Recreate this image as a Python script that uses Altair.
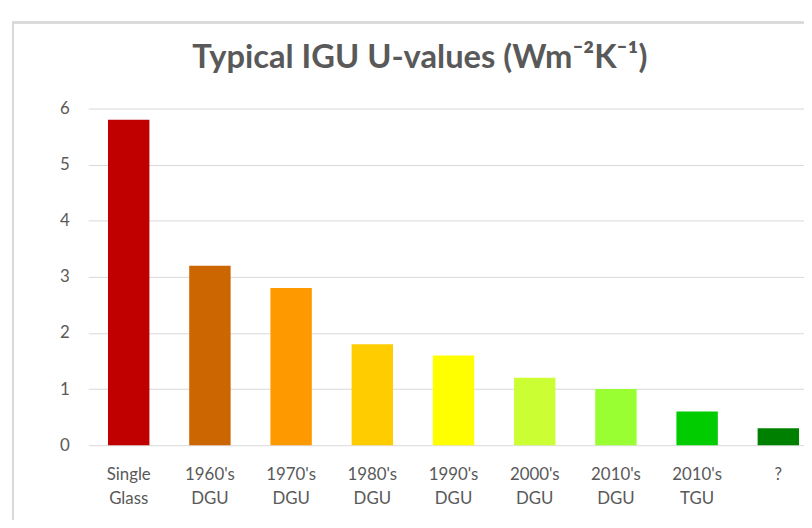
import altair as alt
import pandas as pd

categories = ["Single\nGlass", "1960's\nDGU", "1970's\nDGU", "1980's\nDGU", "1990's\nDGU",
              "2000's\nDGU", "2010's\nDGU", "2010's\nTGU", "?"]
u_values = [5.8, 3.2, 2.8, 1.8, 1.6, 1.2, 1.0, 0.6, 0.3]
bar_colors = ["#C00000", "#CC6600", "#FF9900", "#FFCC00", "#FFFF00",
              "#CCFF33", "#99FF33", "#00CC00", "#008000"]
y_ticks = [0, 1, 2, 3, 4, 5, 6]
title_text = ["Typical IGU U-values (Wm⁻²K⁻¹)"]

df = pd.DataFrame({"cat": categories, "u": u_values, "color": bar_colors})

FONT = "Lato"
GREY = "#595959"

border = alt.Chart(df).mark_rect(fill=None, stroke="#d9d9d9", strokeWidth=1.5).encode(
    x=alt.value(-76), x2=alt.value(800), y=alt.value(-87), y2=alt.value(500)
)

title = alt.Chart(pd.DataFrame({"t": title_text})).mark_text(
    font=FONT, fontSize=33, fontWeight="bold", color=GREY,
    align="center", baseline="alphabetic"
).encode(x=alt.value(335), y=alt.value(-41), text="t:N")

bars = alt.Chart(df).mark_bar().encode(
    x=alt.X("cat:N", sort=categories, title=None,
            scale=alt.Scale(range=[0, 738], paddingInner=0.49, paddingOuter=0.244),
            axis=alt.Axis(labelAngle=0, labelExpr="split(datum.label, '\\n')",
                          labelFont=FONT, labelFontSize=17, labelColor=GREY,
                          labelPadding=22, labelLineHeight=24, ticks=False,
                          domain=False, grid=False)),
    y=alt.Y("u:Q", title=None, scale=alt.Scale(domain=[0, 6], nice=False),
            axis=alt.Axis(values=y_ticks, labelFont=FONT, labelFontSize=17,
                          labelColor=GREY, labelPadding=19, ticks=False, domain=False,
                          grid=True, gridColor="#d9d9d9", gridWidth=1)),
    color=alt.Color("color:N", scale=None, legend=None),
)

chart = alt.layer(border, title, bars).properties(
    width=723, height=340,
    autosize=alt.AutoSizeParams(type="none"),
    padding={"left": 81, "top": 99, "right": 0, "bottom": 73},
).configure_view(stroke=None)

chart.save("out.html", embed_options={"renderer": "svg", "actions": False})
